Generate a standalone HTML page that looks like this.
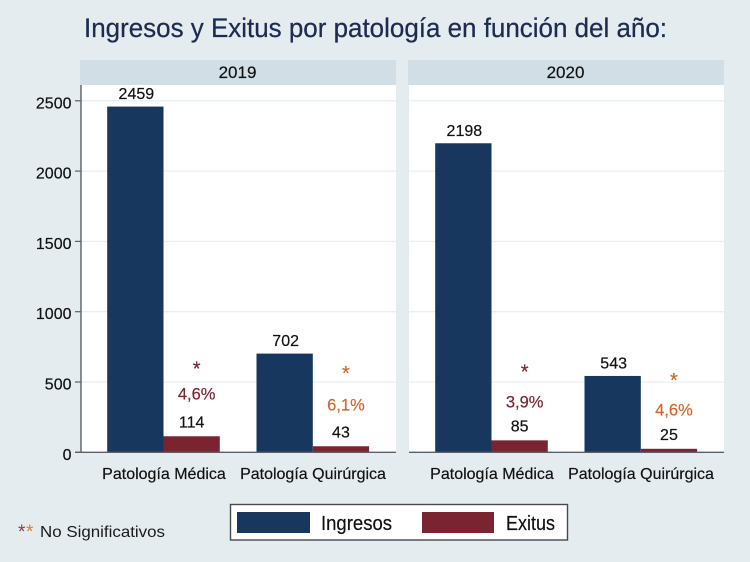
<!DOCTYPE html>
<html lang="es">
<head>
<meta charset="utf-8">
<title>Ingresos y Exitus por patología</title>
<style>
html,body{margin:0;padding:0;background:#e4ecf0;}
svg{display:block;font-family:"Liberation Sans",sans-serif;}
</style>
</head>
<body>
<svg id="chart" width="750" height="562" viewBox="0 0 750 562" xmlns="http://www.w3.org/2000/svg">
<rect x="0" y="0" width="750" height="562" fill="#e4ecf0"/>
<text x="84" y="37" font-size="27" fill="#1d2b50" stroke="#1d2b50" stroke-width="0.25" textLength="583" lengthAdjust="spacingAndGlyphs">Ingresos y Exitus por patología en función del año:</text>
<g>
<rect x="230.5" y="504.5" width="337" height="35.5" fill="#ffffff" stroke="#444a50" stroke-width="1.4"/>
<rect x="237" y="512" width="73" height="21" fill="#17375e"/>
<text x="321" y="530" font-size="20" fill="#111" stroke="#111" stroke-width="0.2" textLength="71" lengthAdjust="spacingAndGlyphs">Ingresos</text>
<rect x="422" y="512" width="72" height="21" fill="#7b2431"/>
<text x="506" y="530" font-size="20" fill="#111" stroke="#111" stroke-width="0.2" textLength="49" lengthAdjust="spacingAndGlyphs">Exitus</text>
</g>
<g>
<text x="18" y="538" font-size="19" fill="#8a3a44">*</text>
<text x="26" y="538" font-size="19" fill="#e07b2c">*</text>
<text x="40" y="537" font-size="16" fill="#1a1a1a" textLength="125" lengthAdjust="spacingAndGlyphs">No Significativos</text>
</g>
</svg>
<script>
const years = ['2019', '2020'];
const categories = ['Patología Médica', 'Patología Quirúrgica'];
const ingresos2019 = [2459, 702];
const ingresos2020 = [2198, 543];
const exitus2019 = [114, 43];
const exitus2020 = [85, 25];
const percent2019 = ['4,6%', '6,1%'];
const percent2020 = ['3,9%', '4,6%'];
const percentLevel2019 = [377, 297];
const percentLevel2020 = [320, 260];
const starLevel2019 = [548, 513];
const starLevel2020 = [526, 466];
const yTicks = [0, 500, 1000, 1500, 2000, 2500];

const NS = 'http://www.w3.org/2000/svg';
const svg = document.getElementById('chart');
const yZero = 452.3;
const yScale = 351.5 / 2500;
const panelWidth = 316;
const panelLefts = [80, 408];
const groupOffset = 27.2;
const groupStep = 149.3;
const barWidth = 56.3;
const maroon = '#7b2431';
const orange = '#d2652a';

function y(v) {
  return yZero - v * yScale;
}
function groupX(panel, g) {
  return panelLefts[panel] + groupOffset + g * groupStep;
}
function make(tag, name, attrs, text) {
  const el = document.createElementNS(NS, tag);
  
  
  Object.keys(attrs).forEach(function (k) { el.setAttribute(k, attrs[k]); });
  if (text !== undefined) {
    el.textContent = text;
    el.setAttribute('stroke', attrs.fill);
    el.setAttribute('stroke-width', '0.2');
  }
  svg.appendChild(el);
  return el;
}

const ingresosByPanel = [ingresos2019, ingresos2020];
const exitusByPanel = [exitus2019, exitus2020];
const percentByPanel = [percent2019, percent2020];
const percentLevels = [percentLevel2019, percentLevel2020];
const starLevels = [starLevel2019, starLevel2020];

years.forEach(function (year, p) {
  const left = panelLefts[p];
  make('rect', 'panel-' + year, {x: left + 1, y: 85, width: panelWidth - 1, height: 367.5, fill: '#ffffff'});
  make('rect', 'panel-header-' + year, {x: left, y: 60, width: panelWidth, height: 25, fill: '#d1dee6'});
  make('text', 'panel-title-' + year, {x: left + panelWidth / 2 - 0.5, y: 78, 'font-size': 17, 'text-anchor': 'middle', fill: '#111'}, year);

  yTicks.forEach(function (t) {
    if (t > 0) {
      make('line', 'gridline-' + year + '-' + t, {x1: left + 1, x2: left + panelWidth, y1: y(t), y2: y(t), stroke: '#e8f0f3', 'stroke-width': 1.3});
    }
  });

  categories.forEach(function (cat, g) {
    const x0 = groupX(p, g);
    const vi = ingresosByPanel[p][g];
    const ve = exitusByPanel[p][g];
    const starColor = g === 0 ? maroon : orange;
    make('rect', 'bar-ingresos-' + year + '-' + g, {x: x0, y: y(vi), width: barWidth, height: yZero - y(vi), fill: '#17375e'});
    make('rect', 'bar-exitus-' + year + '-' + g, {x: x0 + barWidth, y: y(ve), width: barWidth, height: yZero - y(ve), fill: maroon});
    make('text', 'value-label-ingresos-' + year + '-' + g, {x: x0 + barWidth / 2 + 1, y: y(vi) - 7.5, 'font-size': 16, 'text-anchor': 'middle', fill: '#111'}, String(vi));
    make('text', 'value-label-exitus-' + year + '-' + g, {x: x0 + barWidth * 1.5, y: y(ve) - 9, 'font-size': 16, 'text-anchor': 'middle', fill: '#111'}, String(ve));
    make('text', 'percent-label-' + year + '-' + g, {x: x0 + barWidth * 1.5 + 5, y: y(percentLevels[p][g]), 'font-size': 16.5, 'text-anchor': 'middle', fill: starColor}, percentByPanel[p][g]);
    make('text', 'significance-star-' + year + '-' + g, {x: x0 + barWidth * 1.5 + 5, y: y(starLevels[p][g]), 'font-size': 20, 'text-anchor': 'middle', fill: starColor}, '*');
    make('text', 'x-tick-label-' + year + '-' + g, {x: left + 84 + g * 149, y: 479, 'font-size': 16, 'text-anchor': 'middle', fill: '#111'}, cat);
  });

  make('line', 'x-axis-' + year, {x1: left + (p === 0 ? -5 : 1), x2: left + panelWidth, y1: yZero, y2: yZero, stroke: '#5a6066', 'stroke-width': 1.4});
});

make('line', 'y-axis', {x1: 81, x2: 81, y1: 85, y2: yZero, stroke: '#5a6066', 'stroke-width': 1.4});
yTicks.forEach(function (t) {
  make('line', 'y-tick-' + t, {x1: 75, x2: 81, y1: y(t), y2: y(t), stroke: '#5a6066', 'stroke-width': 1.2});
  make('text', 'y-tick-label-' + t, {x: 71.5, y: y(t) + 7.5, 'font-size': 16, 'text-anchor': 'end', fill: '#111'}, String(t));
});
</script>
</body>
</html>
